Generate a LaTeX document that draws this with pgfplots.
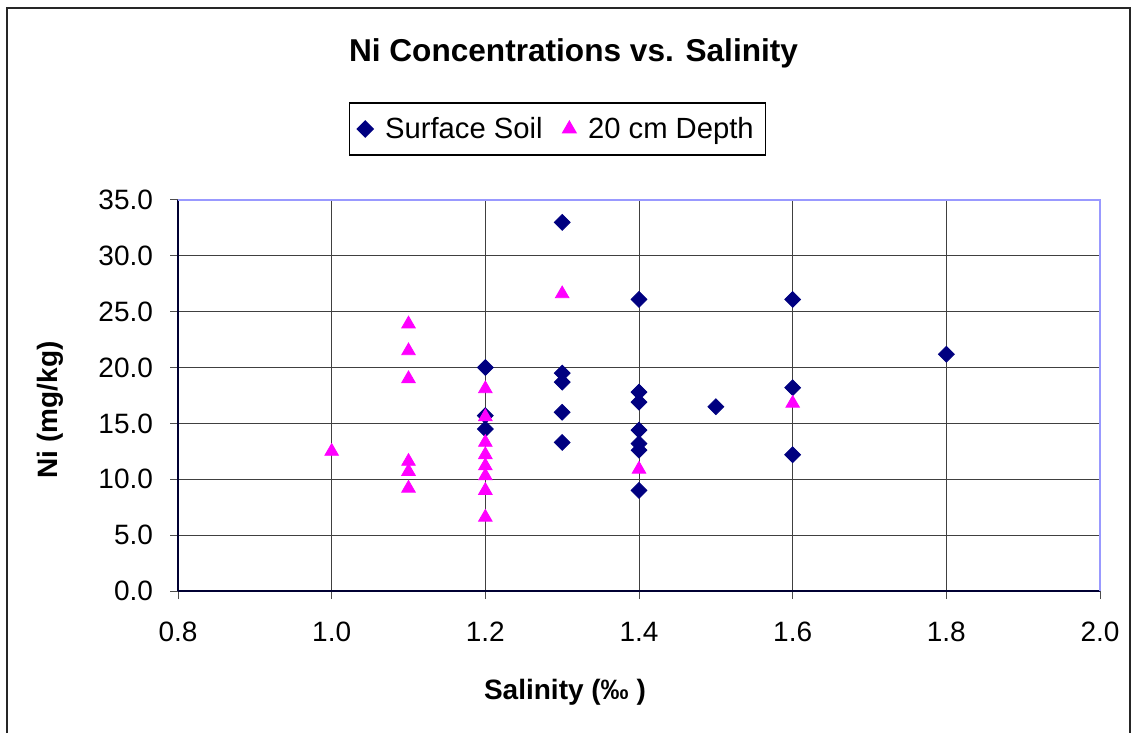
\documentclass[border=0pt]{standalone}
\usepackage{pgfplots}
\pgfplotsset{compat=1.18}
\usepackage{fontspec}
\setmainfont{Liberation Sans}
\definecolor{navyc}{HTML}{000080}
\definecolor{magc}{HTML}{FF00FF}
\definecolor{plotborder}{HTML}{9999FF}
\begin{document}
\begin{tikzpicture}
\path[use as bounding box] (0,0) rectangle (566.5pt,366.5pt);
\draw[line width=1pt, black!85] (3.5pt,0) -- (3.5pt,362.5pt) -- (565pt,362.5pt) -- (565pt,0);
\node[font=\fontsize{15.8pt}{18pt}\selectfont\bfseries] at (286.75pt,340pt) {Ni Concentrations vs. Salinity};
\begin{axis}[
  at={(89pt,71pt)}, anchor=south west,
  scale only axis, width=461pt, height=195.5pt,
  xmin=0.8, xmax=2.0, ymin=0, ymax=35,
  xtick={0.8,1.0,...,2.0}, ytick={0,5,...,35},
  axis x line*=bottom, axis y line*=left,
  axis line style={black!80!blue, line width=0.6pt},
  tick align=outside, major tick length=4pt,
  tick style={black!70, line width=0.5pt},
  grid=major, major grid style={black!75, line width=0.5pt},
  /pgf/number format/assume math mode=true,
  /pgf/number format/fixed, /pgf/number format/precision=1, /pgf/number format/zerofill,
  ticklabel style={font=\fontsize{14pt}{16pt}\selectfont},
  xticklabel style={yshift=-8pt},
  yticklabel style={xshift=-5pt},
  xlabel={Salinity (‰ )}, ylabel={Ni (mg/kg)},
  label style={font=\fontsize{14pt}{16pt}\selectfont\bfseries},
  xlabel style={at={(axis description cs:0.4197,-0.258)}, anchor=center},
  ylabel style={at={(axis description cs:-0.1388,0.463)}, anchor=center, rotate=0},
  legend columns=2,
  legend style={at={(axis description cs:0.4116,1.1816)}, anchor=center,
    draw=black, line width=0.6pt, font=\fontsize{14.6pt}{16pt}\selectfont,
    inner xsep=4pt, inner ysep=5pt,
    /tikz/every odd column/.append style={column sep=4pt},
    /tikz/every even column/.append style={column sep=8pt}},
  legend cell align=left,
  clip=false,
]
\draw[plotborder, line width=1pt] (rel axis cs:0,1) -- (rel axis cs:1,1) -- (rel axis cs:1,0);
\addplot[only marks, mark=square*, mark size=2.8pt, mark options={rotate=45, fill=navyc, draw=navyc}] coordinates {
 (1.2,20.0) (1.2,15.7) (1.2,14.5)
 (1.3,33.0) (1.3,19.5) (1.3,18.7) (1.3,16.0) (1.3,13.3)
 (1.4,26.1) (1.4,17.8) (1.4,16.9) (1.4,14.4) (1.4,13.2) (1.4,12.6) (1.4,9.0)
 (1.5,16.5)
 (1.6,26.1) (1.6,18.2) (1.6,12.2)
 (1.8,21.2)
};
\addlegendentry{Surface Soil}
\addplot[only marks, mark=triangle*, mark size=3.9pt, mark options={fill=magc, draw=magc}] coordinates {
 (1.0,12.5)
 (1.1,23.9) (1.1,21.5) (1.1,19.0) (1.1,11.6) (1.1,10.7) (1.1,9.2)
 (1.2,18.1) (1.2,15.6) (1.2,13.3) (1.2,12.2) (1.2,11.2) (1.2,10.3) (1.2,9.0) (1.2,6.6)
 (1.3,26.6)
 (1.4,10.9)
 (1.6,16.8)
};
\addlegendentry{20 cm Depth}
\end{axis}
\end{tikzpicture}
\end{document}
